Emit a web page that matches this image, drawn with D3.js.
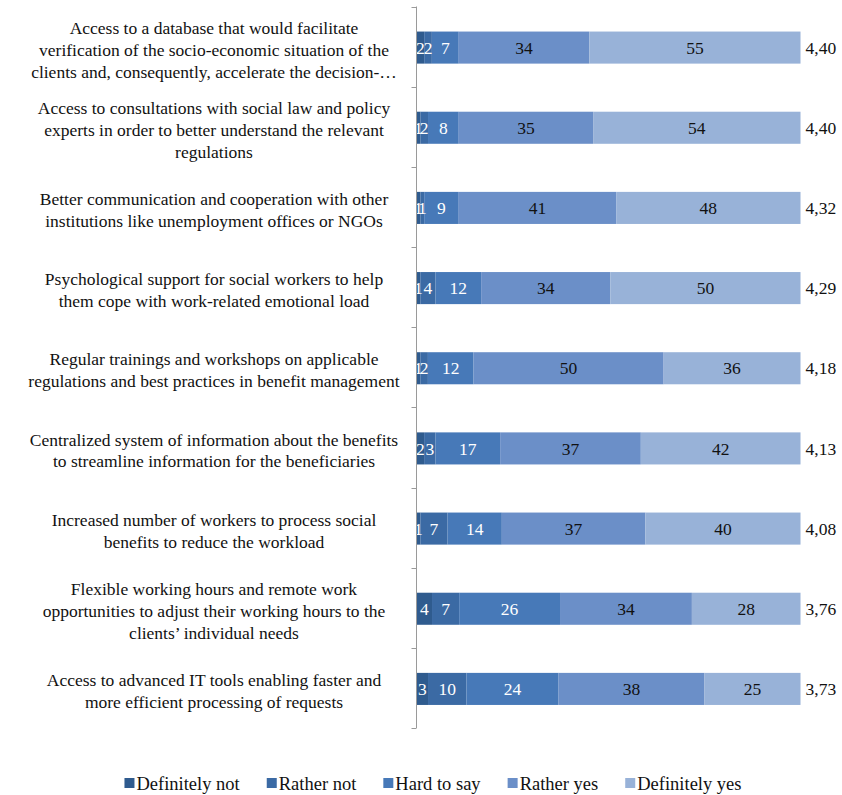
<!DOCTYPE html>
<html>
<head>
<meta charset="utf-8">
<script src="https://cdn.jsdelivr.net/npm/d3@7"></script>
<style>
  html, body { margin: 0; padding: 0; background: #fff; }
  svg { display: block; }
  text { font-family: "Liberation Serif", "Times New Roman", serif; }
</style>
</head>
<body>
<svg id="chart" width="842" height="795"></svg>
<script>
// Answer categories, in stacking order
const series = ["Definitely not", "Rather not", "Hard to say", "Rather yes", "Definitely yes"];

// Measures (label lines, top to bottom)
const categories = [
  ["Access to a database that would facilitate", "verification of the socio-economic situation of the", "clients and, consequently, accelerate the decision-\u2026"],
  ["Access to consultations with social law and policy", "experts in order to better understand the relevant", "regulations"],
  ["Better communication and cooperation with other", "institutions like unemployment offices or NGOs"],
  ["Psychological support for social workers to help", "them cope with work-related emotional load"],
  ["Regular trainings and workshops on applicable", "regulations and best practices in benefit management"],
  ["Centralized system of information about the benefits", "to streamline information for the beneficiaries"],
  ["Increased number of workers to process social", "benefits to reduce the workload"],
  ["Flexible working hours and remote work", "opportunities to adjust their working hours to the", "clients\u2019 individual needs"],
  ["Access to advanced IT tools enabling faster and", "more efficient processing of requests"]
];

// Share of answers (%) per measure, one array per answer category
const definitelyNot = [2, 1, 1, 1, 1, 2, 1, 4, 3];
const ratherNot     = [2, 2, 1, 4, 2, 3, 7, 7, 10];
const hardToSay     = [7, 8, 9, 12, 12, 17, 14, 26, 24];
const ratherYes     = [34, 35, 41, 34, 50, 37, 37, 34, 38];
const definitelyYes = [55, 54, 48, 50, 36, 42, 40, 28, 25];

// Mean score per measure
const means = ["4,40", "4,40", "4,32", "4,29", "4,18", "4,13", "4,08", "3,76", "3,73"];

const colors = ["#2f5b8e", "#3b6aa4", "#4779b8", "#6b8fc8", "#98b2d8"];
const labelColors = ["#fff", "#fff", "#fff", "#111", "#111"];

const valueArrays = [definitelyNot, ratherNot, hardToSay, ratherYes, definitelyYes];
const rows = categories.map((c, i) => {
  const r = { id: i };
  series.forEach((s, k) => { r[s] = valueArrays[k][i]; });
  r.total = d3.sum(valueArrays, a => a[i]);
  return r;
});

const svg = d3.select("#chart");
const axisX = 416.5, plotRight = 800.5;
const plotTop = 7.5, plotBottom = 729;

// 100% stacked: each row normalised to its own total
const stack = d3.stack().keys(series)
  .value((d, key) => d[key] / d.total * 100);
const layers = stack(rows);

const x = d3.scaleLinear().domain([0, 100]).range([axisX, plotRight]);
const y = d3.scaleBand().domain(rows.map(d => d.id)).range([plotTop, plotBottom]).paddingInner(0.6).paddingOuter(0.3);

const layerG = svg.append("g").selectAll("g").data(layers).join("g")
  .attr("fill", (d, i) => colors[i]);

layerG.selectAll("rect").data(d => d).join("rect")
  .attr("x", d => x(d[0]))
  .attr("y", (d, i) => y(i))
  .attr("width", d => x(d[1]) - x(d[0]))
  .attr("height", y.bandwidth());

// Segment value labels
svg.append("g").selectAll("g").data(layers).join("g")
  .attr("fill", (d, i) => labelColors[i])
  .selectAll("text").data((d, k) => d.map((p, i) => ({ p, i, k })))
  .join("text")
  .attr("x", d => (x(d.p[0]) + x(d.p[1])) / 2)
  .attr("y", d => y(d.i) + y.bandwidth() / 2)
  .attr("dy", "0.35em")
  .attr("text-anchor", "middle")
  .attr("font-size", 17.5)
  .text(d => valueArrays[d.k][d.i]);

// Vertical category axis with ticks between bands
const axisG = svg.append("g").attr("stroke", "#9a9a9a").attr("stroke-width", 1);
axisG.append("line").attr("x1", axisX).attr("x2", axisX).attr("y1", plotTop - 1).attr("y2", plotBottom - 1);
axisG.selectAll("line.tick").data(d3.range(rows.length + 1)).join("line")
  .attr("class", "tick")
  .attr("x1", axisX - 5).attr("x2", axisX)
  .attr("y1", i => Math.round(plotTop - 1 + i * (plotBottom - plotTop) / rows.length) + 0.5)
  .attr("y2", i => Math.round(plotTop - 1 + i * (plotBottom - plotTop) / rows.length) + 0.5);

// Category labels, centred in the left margin
const lineH = 21.8;
svg.append("g").selectAll("text").data(categories).join("text")
  .attr("font-size", 17.5)
  .attr("fill", "#111")
  .attr("text-anchor", "middle")
  .each(function (lines, i) {
    const cy = y(i) + y.bandwidth() / 2 + 2;
    const t = d3.select(this);
    lines.forEach((ln, j) => {
      t.append("tspan")
        .attr("x", 214)
        .attr("y", cy + (j - (lines.length - 1) / 2) * lineH)
        .attr("dy", "0.35em")
        .text(ln);
    });
  });

// Mean score at the end of each bar
svg.append("g").selectAll("text").data(means).join("text")
  .attr("x", plotRight + 5)
  .attr("y", (d, i) => y(i) + y.bandwidth() / 2)
  .attr("dy", "0.35em")
  .attr("font-size", 17.5)
  .attr("fill", "#111")
  .text(d => d);

// Legend
const legend = svg.append("g");
const items = legend.selectAll("g").data(series).join("g");
items.append("rect").attr("width", 10).attr("height", 10).attr("y", -6)
  .attr("fill", (d, i) => colors[i]);
items.append("text").attr("x", 12).attr("dy", "0.35em").attr("font-size", 18.5).attr("fill", "#111").text(d => d);
const gap = 27;
let cursor = 0;
const positions = [];
items.each(function () {
  positions.push(cursor);
  const w = 12 + this.querySelector("text").getComputedTextLength();
  cursor += w + gap;
});
const totalW = cursor - gap;
const startX = 433 - totalW / 2;
items.attr("transform", (d, i) => `translate(${startX + positions[i]},784)`);
</script>
</body>
</html>
